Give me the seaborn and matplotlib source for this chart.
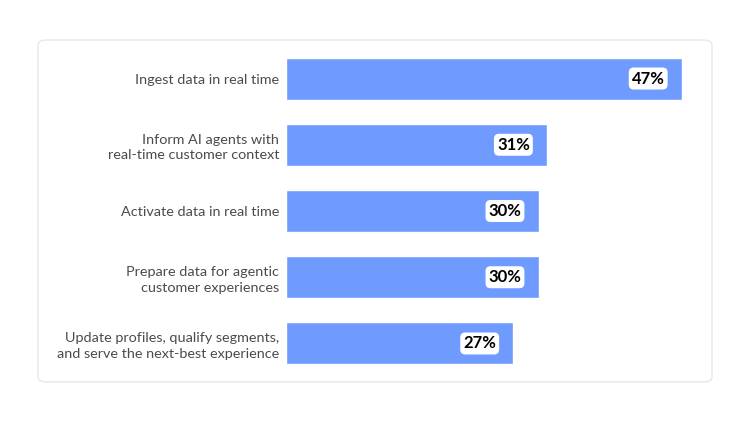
import numpy as np
import pandas as pd
import seaborn as sns
import matplotlib.pyplot as plt
from matplotlib.patches import FancyBboxPatch

sns.set_style('white')
plt.rcParams['font.family'] = ['Lato', 'DejaVu Sans']

categories = [
    'Ingest data in real time',
    'Inform AI agents with\nreal-time customer context',
    'Activate data in real time',
    'Prepare data for agentic\ncustomer experiences',
    'Update profiles, qualify segments,\nand serve the next-best experience',
]
values = [47, 31, 30, 30, 27]

df = pd.DataFrame({'task': categories, 'share': values})

fig = plt.figure(figsize=(7.5, 4.22), dpi=100)

# card background, kept behind the axes
card = FancyBboxPatch((38 / 750, 1 - 382 / 422), 674 / 750, 342 / 422,
                      boxstyle='round,pad=0,rounding_size=0.012',
                      transform=fig.transFigure, facecolor='white',
                      edgecolor='#e8e8e8', linewidth=1, zorder=-5)
fig.patches.append(card)

ax = fig.add_axes([286 / 750, 1 - 376.6 / 422, 396 / 750, 331.2 / 422])
ax.set_zorder(2)
ax.patch.set_alpha(0)

sns.barplot(data=df, x='share', y='task', color='#6f9bff', saturation=1,
            width=0.634, ax=ax)

ax.set_xlim(0, 47)
ax.set_ylim(4.5, -0.5)
ax.set_xlabel('')
ax.set_ylabel('')
ax.set_xticks([])
sns.despine(ax=ax, left=True, bottom=True)
ax.tick_params(axis='y', length=0, pad=5, labelsize=10.4, labelcolor='#4b4b4b')
for lbl in ax.get_yticklabels():
    lbl.set_horizontalalignment('right')
    lbl.set_multialignment('right')
    lbl.set_linespacing(1.35)

for i, v in enumerate(values):
    ax.annotate(f'{v}%', xy=(v, i), xytext=(-12.5, 0), textcoords='offset points',
                ha='right', va='center', fontsize=12, fontweight='bold',
                color='black',
                bbox=dict(boxstyle='round,pad=0.18,rounding_size=0.3',
                          facecolor='white', edgecolor='none'))

fig.savefig('out.png', dpi=100)
